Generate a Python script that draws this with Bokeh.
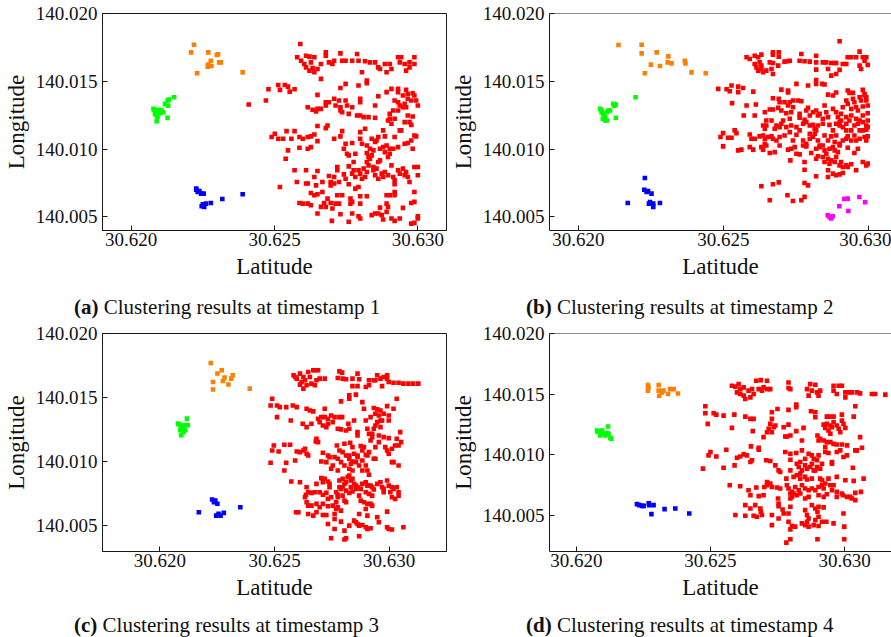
from bokeh.plotting import figure
from bokeh.layouts import column, row
from bokeh.models import Range1d, FixedTicker, PrintfTickFormatter, Span, Div
from bokeh.embed import file_html
from bokeh.resources import INLINE

# Point values are stored as offsets in units of 1e-5 degree
LAT_BASE = 30.62
LON_BASE = 140.00
UNIT = 1e-5

# ---------------- timestamp 1 ----------------
T1_RED = [
(590,1775),(579,1677),(610,1689),(622,1682),(639,1677),(593,1652),(604,1628),(627,1640),(610,1603),(622,1579),(639,1567),(650,1591),(662,1628),(679,1714),(679,1689),(690,1640),(702,1628),(708,1652),(730,1706),(736,1652),(748,1652),(771,1652),(788,1701),(793,1652),(816,1648),(833,1640),(851,1640),(862,1603),(868,1591),(885,1628),(891,1567),(902,1628),(908,1591),(931,1677),(942,1677),(937,1640),(954,1628),(959,1579),(971,1603),(988,1677),(988,1628),(971,1640),(805,1567),(662,1518),(633,1598),
(822,1505),(822,1486),(793,1469),(748,1481),(730,1451),(479,1442),(513,1473),(519,1437),(536,1473),(547,1461),(553,1424),(570,1442),(650,1400),(891,1420),(908,1444),(931,1444),(931,1420),(959,1437),(965,1407),(982,1412),(862,1390),
(470,1358),(616,1309),(633,1290),(645,1277),(650,1297),(662,1297),(679,1346),(679,1322),(690,1346),(708,1371),(713,1322),(725,1358),(730,1309),(730,1285),(736,1272),(748,1358),(753,1322),(771,1309),(799,1371),(799,1346),(851,1322),(919,1358),(931,1346),(937,1322),(948,1395),(948,1309),(954,1334),(965,1371),(977,1358),(988,1395),(994,1358),(1000,1322),(931,1285),(902,1260),(914,1285),(919,1224),(959,1309),
(759,1260),(788,1248),(799,1248),(811,1236),(828,1236),(851,1231),(896,1211),(908,1187),(902,1224),(954,1199),(971,1199),(977,1179),(982,1241),(965,1248),(685,1174),(679,1155),(650,1170),(937,1138),(410,1329),
(490,1089),(501,1113),(513,1076),(530,1076),(542,1133),(559,1076),(570,1133),(587,1089),(599,1076),(616,1089),(627,1094),(639,1108),(650,1059),(708,1076),(730,1094),(736,1133),(748,1040),(771,1045),(799,1125),(799,1076),(805,1040),(816,1150),(822,1027),(839,1076),(851,1052),(856,1064),(862,1089),(879,1138),(885,1094),(891,1027),(879,1015),(868,1003),(919,1089),(942,1138),(954,1040),(965,1045),(977,1064),(988,1101),(994,1094),(982,1003),(931,1015),(914,1003),(902,1003),(833,1003),(845,991),
(547,991),(539,929),(587,1010),(616,1003),(627,1015),(742,1003),(753,966),(759,954),(782,966),(822,971),(828,942),(833,929),(822,905),(839,954),(862,905),(868,917),(896,942),(902,966),(885,978),(776,905),
(570,844),(610,844),(650,839),(639,795),(645,733),(667,758),(690,802),(696,758),(708,795),(708,746),(719,868),(719,844),(725,758),(742,814),(748,782),(759,873),(759,741),(771,819),(776,844),(782,795),(793,844),(799,819),(805,782),(811,856),(816,795),(822,831),(828,880),(845,868),(845,844),(851,807),(856,856),(862,782),(874,819),(879,795),(885,831),(896,807),(908,880),(914,795),(919,770),(919,741),(931,844),(937,819),(948,856),(954,807),(959,831),(965,795),(971,758),(988,868),(1000,807),(1000,868),(519,721),(578,758),(610,746),(616,746),(696,733),(793,721),(782,709),
(627,677),(639,660),(650,667),(667,684),(685,635),(696,603),(719,660),(736,660),(765,635),(771,611),(799,652),(822,652),(891,660),(902,660),(919,684),(919,660),(988,684),(587,603),(599,598),(616,598),(627,586),(662,574),(673,603),(679,574),(702,562),(713,598),(725,598),(765,598),(799,598),(891,598),(896,574),(948,567),(977,603),(988,611),(650,525),(730,520),(771,525),(793,505),(799,488),(839,513),(851,525),(862,525),(868,569),(874,513),(879,481),(891,537),(908,488),(919,471),(937,488),(1000,505),(1000,488),(977,451),(988,456),(700,471),(759,464),
]
T1_ORANGE = [(219,1770),(209,1713),(269,1713),(299,1694),(278,1652),(269,1623),(280,1613),(307,1640),(313,1640),(230,1559),(389,1566),(267,1608),(303,1700)]
T1_GREEN = [(78,1297),(89,1285),(83,1260),(95,1272),(106,1285),(89,1248),(101,1265),(112,1272),(118,1334),(127,1358),(129,1321),(132,1365),(150,1382),(89,1206),(127,1231),(97,1290),(80,1290),(92,1240)]
T1_BLUE = [(227,701),(232,684),(244,672),(253,672),(250,593),(255,574),(261,598),(246,579),(278,603),(318,632),(389,667),(238,691),(227,710),(252,585)]

# ---------------- timestamp 2 ----------------
T2_RED = [
(901,1795),(580,1677),(591,1665),(608,1689),(620,1677),(631,1697),(608,1628),(614,1603),(625,1640),(631,1591),(620,1579),(637,1567),(631,1616),(648,1579),(660,1640),(666,1591),(671,1635),(671,1554),(689,1616),(671,1714),(671,1697),(691,1714),(691,1682),(711,1645),(723,1648),(729,1652),(769,1701),(763,1652),(780,1648),(798,1645),(820,1689),(820,1640),(843,1640),(855,1640),(872,1635),(884,1635),(889,1635),(912,1628),(924,1628),(929,1677),(941,1677),(958,1677),(970,1719),(981,1677),(993,1677),(987,1652),(998,1621),(970,1616),(975,1591),(820,1586),(861,1591),(872,1542),(889,1554),(901,1584),
(820,1510),(820,1481),(841,1481),(849,1476),(752,1481),(792,1469),(528,1469),(551,1461),(568,1451),(482,1444),(511,1442),(522,1427),(551,1420),(603,1424),(700,1439),(723,1432),(723,1417),(861,1402),(878,1395),(889,1417),(929,1432),(935,1415),(947,1415),(981,1437),(987,1407),(993,1383),
(530,1339),(580,1322),(612,1329),(671,1375),(691,1371),(694,1346),(671,1292),(660,1292),(643,1272),(689,1304),(700,1285),(711,1346),(729,1346),(740,1358),(757,1358),(769,1353),(723,1322),(740,1309),(734,1272),(717,1265),(729,1224),(706,1211),(763,1260),(763,1231),(786,1285),(792,1304),(798,1248),(780,1216),(809,1272),(820,1285),(826,1248),(832,1260),(849,1322),(855,1272),(843,1224),(861,1236),(878,1297),(889,1272),(895,1236),(906,1260),(912,1309),(924,1358),(929,1334),(941,1297),(947,1371),(952,1346),(958,1309),(964,1285),(970,1383),(975,1358),(981,1314),(987,1395),(993,1358),(998,1322),(998,1265),(981,1248),(970,1211),(958,1224),(941,1248),(924,1236),(906,1211),(901,1199),(570,1248),(608,1248),(666,1211),(648,1211),
(648,1174),(683,1174),(694,1162),(700,1187),(677,1150),(717,1162),(734,1174),(752,1162),(775,1187),(786,1199),(798,1174),(809,1179),(815,1150),(826,1174),(843,1187),(866,1179),(889,1187),(901,1174),(912,1162),(924,1187),(935,1211),(952,1174),(964,1187),(981,1199),(993,1174),(998,1211),(924,1138),(941,1138),(981,1138),(993,1143),(998,1162),(643,1150),(637,1174),
(499,1118),(490,1089),(516,1084),(528,1084),(539,1138),(545,1118),(591,1108),(597,1076),(608,1076),(625,1094),(637,1101),(643,1076),(654,1089),(666,1094),(671,1076),(643,1040),(648,1027),(683,1064),(694,1089),(694,1027),(711,1101),(729,1125),(740,1064),(752,1106),(763,1138),(775,1064),(786,1040),(798,1113),(798,1076),(809,1089),(815,1113),(820,1138),(826,1064),(832,1027),(849,1101),(861,1064),(872,1094),(878,1138),(889,1101),(884,1052),(901,1040),(912,1064),(924,1076),(929,1094),(941,1064),(952,1101),(958,1064),(970,1076),(987,1089),(993,1064),(998,1094),(970,1138),
(499,1020),(551,991),(562,996),(591,1015),(603,996),(631,1015),(637,996),(660,971),(677,978),(723,996),(734,1003),(746,1015),(752,966),(763,961),(775,1027),(786,1020),(803,971),(820,1003),(832,1015),(843,1027),(849,991),(866,1003),(878,1015),(884,991),(895,978),(901,1027),(929,1010),(952,971),(964,1003),(855,966),
(731,917),(780,905),(780,848),(820,929),(826,947),(843,942),(849,905),(861,929),(866,893),(872,917),(884,905),(889,942),(901,880),(906,905),(912,868),(924,880),(929,868),(941,888),(958,844),(981,905),(993,880),(998,893),(820,800),(861,844),(861,795),(878,819),(889,807),(901,814),(912,824),
(631,726),(671,741),(691,755),(780,750),(792,733),(660,623),(721,660),(740,618),(769,623),(780,648),
]
T2_ORANGE = [(138,1768),(218,1770),(218,1706),(270,1713),(310,1684),(308,1640),(321,1632),(250,1623),(281,1613),(229,1559),(367,1652),(369,1632),(390,1566),(439,1559)]
T2_GREEN = [(75,1297),(80,1285),(86,1260),(92,1235),(98,1272),(103,1285),(109,1285),(92,1211),(98,1211),(120,1334),(129,1329),(129,1231),(84,1223),(197,1382),(124,1320),(80,1270)]
T2_BLUE = [(229,787),(227,701),(235,684),(252,672),(247,610),(258,598),(258,574),(281,603),(170,603),(243,598),(240,690)]
T2_MAGENTA = [(860,512),(872,488),(877,505),(900,579),(917,632),(929,635),(931,544),(969,647),(989,608),(866,500)]

# ---------------- timestamp 3 ----------------
T3_RED = [
(583,1674),(597,1648),(611,1687),(626,1661),(618,1622),(633,1635),(647,1700),(654,1661),(669,1713),(676,1713),(690,1713),(640,1596),(626,1570),(661,1609),(676,1596),(683,1635),(697,1648),(719,1648),(611,1601),(590,1661),(783,1705),(795,1695),(776,1653),(797,1648),(812,1643),(840,1648),(862,1687),(869,1643),(840,1590),(862,1590),(898,1583),(912,1635),(933,1635),(948,1674),(962,1648),(976,1661),(991,1674),(969,1590),(998,1622),(1019,1616),(1041,1616),(1062,1609),(1084,1609),(1105,1609),(1127,1609),(912,1596),(991,1648),(940,1635),
(826,1518),(826,1491),(855,1523),(790,1471),(883,1465),(1033,1491),(490,1491),(483,1439),(511,1439),(523,1426),(551,1426),(580,1439),(597,1426),(640,1413),(654,1400),(669,1393),(719,1413),(890,1413),(933,1419),(948,1408),(962,1400),(991,1434),(1019,1413),(940,1374),(919,1348),(955,1361),(962,1322),(976,1374),(998,1361),(998,1322),(511,1348),(571,1322),
(690,1335),(704,1348),(719,1348),(733,1335),(747,1361),(762,1348),(783,1348),(795,1348),(754,1309),(733,1296),(711,1283),(726,1270),(697,1309),(661,1296),(640,1270),(623,1296),(822,1296),(847,1322),(776,1257),(790,1252),(812,1244),(826,1257),(862,1231),(862,1205),(905,1257),(912,1218),(926,1218),(933,1257),(940,1283),(948,1309),(962,1270),(955,1205),(976,1192),(998,1184),(969,1322),(898,1322),
(683,1179),(690,1153),(680,1158),(772,1127),(805,1140),(830,1148),(840,1114),(847,1062),(876,1122),(883,1088),(890,1114),(912,1075),(919,1166),(926,1192),(940,1114),(955,1153),(983,1114),(991,1088),(998,1062),(1012,1101),(1026,1127),(1041,1127),(1052,1153),(1048,1231),(1033,1179),(497,1127),(490,1088),(518,1080),(543,1132),(568,1132),(597,1080),(611,1075),(626,1088),(633,1101),(640,1062),(647,1049),(711,1070),(733,1049),(740,1036),(783,1088),(797,1075),(812,1049),(826,1049),(862,1049),(898,1054),(762,1036),
(483,992),(551,992),(590,1010),(704,1002),(726,997),(754,971),(776,1023),(790,997),(805,971),(826,1023),(833,984),(840,1002),(855,997),(862,1036),(869,971),(883,1010),(898,971),(905,1049),(933,1023),(940,1023),(1012,997),(1019,997),(747,945),(776,932),(826,945),(840,932),(883,932),(905,932),(912,898),(543,932),(1041,971),
(573,846),(611,840),(683,827),(711,840),(704,872),(719,867),(733,846),(740,827),(783,854),(797,867),(805,827),(812,840),(819,880),(826,893),(833,854),(840,867),(847,827),(855,814),(833,801),(797,801),(783,801),(769,762),(776,742),(790,788),(812,775),(826,757),(840,768),(855,788),(862,801),(876,788),(883,827),(898,840),(905,814),(919,814),(926,801),(933,783),(948,827),(962,840),(969,801),(976,788),(991,854),(998,814),(1012,801),(1019,788),(1033,801),(1041,762),(740,801),(640,801),(697,762),(676,762),(661,757),(647,762),(637,742),(898,762),(912,749),(926,736),(976,762),(1005,762),(1012,723),(1026,710),(1041,736),(711,742),(726,757),
(633,723),(640,684),(647,658),(661,658),(683,671),(711,671),(733,710),(747,723),(776,723),(797,736),(805,697),(769,684),(754,658),(776,645),(812,684),(869,736),(876,697),(890,684),(905,671),(919,671),(926,658),(697,645),(733,653),(769,632),(790,619),(898,632),(594,606),(604,606),(647,593),(669,580),(683,606),(711,585),(726,585),(762,593),(869,593),(905,580),(991,611),
(762,554),(790,533),(733,515),(826,502),(847,541),(855,528),(862,515),(869,502),(883,507),(898,489),(905,476),(919,481),(948,567),(955,528),(991,489),(998,476),(1012,471),(1062,489),(762,476),(805,463),(747,403),(805,393),(812,403),(869,419),
]
T3_ORANGE = [(222,1770),(251,1688),(270,1713),(232,1622),(275,1630),(282,1656),(318,1674),(311,1648),(299,1602),(232,1563),(392,1570)]
T3_GREEN = [(79,1297),(89,1284),(96,1270),(103,1276),(110,1284),(122,1284),(118,1336),(89,1245),(103,1231),(110,1245),(93,1206),(99,1258),(85,1290)]
T3_BLUE = [(170,606),(228,705),(236,685),(251,672),(246,580),(256,594),(265,580),(279,601),(351,645),(242,698)]

# ---------------- timestamp 4 ----------------
T4_RED = [
(580,1569),(593,1561),(605,1582),(611,1541),(624,1555),(599,1514),(611,1500),(624,1487),(630,1459),(642,1528),(649,1473),(655,1541),(661,1500),(671,1610),(688,1615),(711,1610),(680,1541),(692,1528),(698,1555),(711,1541),(723,1541),(791,1596),(791,1550),(798,1541),(872,1582),(891,1577),(860,1541),(866,1487),(878,1528),(897,1514),(903,1487),(909,1528),(959,1569),(978,1569),(990,1569),(959,1528),(971,1500),(1003,1514),(1015,1514),(1027,1514),(1046,1514),(1058,1506),(1102,1500),(1114,1500),(1152,1495),(1003,1473),
(481,1399),(481,1341),(512,1341),(522,1330),(549,1322),(589,1330),(630,1314),(649,1295),(661,1295),(729,1350),(750,1377),(791,1369),(820,1413),(820,1391),(875,1358),(891,1350),(891,1309),(934,1314),(944,1314),(959,1314),(990,1330),(1034,1314),(1040,1399),(990,1281),(729,1295),(723,1254),(736,1226),(742,1240),(717,1213),(729,1185),(711,1185),(773,1226),(791,1248),(798,1158),(820,1194),(847,1221),(922,1248),(928,1221),(934,1254),(947,1240),(953,1226),(959,1267),(971,1240),(978,1213),(984,1185),(996,1254),(1003,1221),(940,1199),(947,1172),(490,1254),(580,1221),(658,1194),(785,1150),
(698,1144),(779,1150),(841,1117),(899,1158),(903,1117),(909,1131),(922,1117),(928,1062),(934,1103),(947,1103),(959,1089),(971,1084),(990,1084),(1009,1076),(1058,1144),(1065,1057),(651,1068),(680,1057),(680,1040),(559,1040),(500,1021),(493,994),(522,985),(611,985),(624,1002),(599,974),(636,994),(655,953),(649,939),(708,953),(723,947),(742,911),(779,1021),(798,1007),(798,958),(820,1013),(835,939),(841,1035),(853,966),(866,1007),(878,994),(885,966),(897,953),(903,994),(928,1021),(940,1013),(971,1021),(984,1035),(996,980),(1009,994),(1040,1035),(1046,1035),(953,939),
(472,884),(549,892),(590,911),(754,870),(760,857),(798,870),(822,925),(829,898),(835,843),(841,870),(853,911),(860,884),(872,898),(878,925),(885,870),(891,870),(897,898),(909,884),(916,925),(953,925),(1031,892),(783,802),(810,816),(822,829),(835,802),(853,816),(860,794),(878,802),(909,802),(916,788),(940,802),(971,816),(1003,788),(1034,783),(1071,802),(711,774),(723,761),
(572,747),(611,739),(642,706),(671,728),(701,733),(711,747),(729,733),(748,728),(760,720),(785,747),(791,720),(804,692),(816,733),(829,706),(841,747),(853,720),(866,706),(878,720),(891,706),(903,733),(916,747),(922,720),(928,761),(947,747),(953,706),(959,747),(971,692),(990,679),(1009,651),(1021,651),(1027,637),(1040,624),(1040,684),(1061,692),(649,665),(680,657),(698,665),(752,637),(754,596),(798,679),(798,637),(804,651),(810,679),(822,665),(835,679),(853,637),(866,651),(903,665),(922,651),(934,673),(971,651),(994,665),
(630,583),(649,555),(667,583),(686,555),(688,528),(692,501),(673,487),(661,495),(630,495),(593,501),(729,501),(754,575),(754,473),(769,547),(773,514),(791,514),(798,569),(853,542),(860,501),(866,473),(878,583),(891,555),(903,569),(922,564),(899,528),(903,487),(916,446),(932,446),(959,432),(996,514),(999,405),(729,418),(791,446),(804,410),(798,383),(816,405),(841,432),(853,418),(860,446),(866,405),(885,418),(891,459),(903,410),
(783,273),(798,301),(899,301),(999,301),
]
T4_ORANGE = [(267,1574),(267,1528),(307,1574),(307,1528),(309,1486),(325,1528),(342,1500),(350,1541),(363,1541),(379,1505),(269,1555),(319,1514)]
T4_GREEN = [(77,1199),(86,1185),(89,1158),(96,1199),(102,1172),(108,1158),(118,1232),(120,1172),(127,1139),(130,1131),(114,1177),(80,1190)]
T4_BLUE = [(226,591),(235,583),(245,577),(251,577),(270,597),(272,583),(288,583),(280,509),(329,550),(369,555),(421,514)]

X_TICKS = [30.620, 30.625, 30.630]
Y_TICKS = [140.005, 140.010, 140.015, 140.020]
TAGS = ["(a)", "(b)", "(c)", "(d)"]
CAPTIONS = ["Clustering results at timestamp 1", "Clustering results at timestamp 2",
            "Clustering results at timestamp 3", "Clustering results at timestamp 4"]

RED, ORANGE, GREEN, BLUE, MAGENTA = "#ff0000", "#ff8000", "#00ff00", "#0000ff", "#ff00ff"
FONT = "Liberation Serif"
AXIS_COLOR = "#1a1a1a"


def make_panel(clusters, xr, yr, width, height, bl, br, bt, frame_h, full_box):
    bb = height - bt - frame_h
    p = figure(width=width, height=height, x_range=Range1d(*xr), y_range=Range1d(*yr),
               output_backend="svg", toolbar_location=None,
               min_border_left=bl, min_border_right=br, min_border_top=bt, min_border_bottom=bb)
    p.xgrid.visible = False
    p.ygrid.visible = False
    p.background_fill_color = "white"
    p.border_fill_color = "white"
    if full_box:
        p.outline_line_color = AXIS_COLOR
        p.outline_line_width = 1
    else:
        p.outline_line_color = None
        p.add_layout(Span(location=yr[1], dimension="width", line_color=AXIS_COLOR, line_width=1))

    for pts, color in clusters:
        lats = [LAT_BASE + a * UNIT for a, b in pts]
        lons = [LON_BASE + b * UNIT for a, b in pts]
        p.scatter(lats, lons, marker="square", size=4.6, fill_color=color, line_color=None)

    p.xaxis.ticker = FixedTicker(ticks=X_TICKS)
    p.yaxis.ticker = FixedTicker(ticks=Y_TICKS)
    p.xaxis.formatter = PrintfTickFormatter(format="%.3f")
    p.yaxis.formatter = PrintfTickFormatter(format="%.3f")
    p.xaxis.axis_label = "Latitude"
    p.yaxis.axis_label = "Longitude"
    for ax in (p.xaxis[0], p.yaxis[0]):
        ax.axis_line_color = AXIS_COLOR
        ax.major_tick_line_color = AXIS_COLOR
        ax.minor_tick_line_color = None
        ax.major_tick_in = 5
        ax.major_tick_out = 0
        ax.major_label_text_font = FONT
        ax.major_label_text_font_size = "19px"
        ax.major_label_text_color = "#111111"
        ax.axis_label_text_font = FONT
        ax.axis_label_text_font_size = "23px"
        ax.axis_label_text_font_style = "normal"
        ax.axis_label_text_color = "#111111"
    p.xaxis.major_label_standoff = 2
    p.xaxis.axis_label_standoff = 5
    p.yaxis.major_label_standoff = 5
    p.yaxis.axis_label_standoff = 4
    return p


def caption_div(tag, text, width, height, left, top, line_h):
    html = ('<div style="padding-left:%dpx; padding-top:%dpx; font-family:\'Liberation Serif\'; '
            'font-size:21px; line-height:%dpx; white-space:nowrap; color:#111111;">'
            '<b>%s</b> %s</div>') % (left, top, line_h, tag, text)
    return Div(text=html, width=width, height=height, margin=0)


pa = make_panel([(T1_RED, RED), (T1_ORANGE, ORANGE), (T1_GREEN, GREEN), (T1_BLUE, BLUE)],
                (30.619, 30.631), (140.004, 140.020), 447, 286, 97, 1, 13, 217, True)
pb = make_panel([(T2_RED, RED), (T2_ORANGE, ORANGE), (T2_GREEN, GREEN), (T2_BLUE, BLUE), (T2_MAGENTA, MAGENTA)],
                (30.619, 30.6308), (140.004, 140.020), 444, 286, 102, 0, 13, 217, False)
pc = make_panel([(T3_RED, RED), (T3_ORANGE, ORANGE), (T3_GREEN, GREEN), (T3_BLUE, BLUE)],
                (30.6175, 30.6325), (140.003, 140.020), 447, 287, 97, 1, 13, 218, True)
pd = make_panel([(T4_RED, RED), (T4_ORANGE, ORANGE), (T4_GREEN, GREEN), (T4_BLUE, BLUE)],
                (30.619, 30.63175), (140.002, 140.020), 444, 287, 102, 0, 13, 218, False)

da = caption_div(TAGS[0], CAPTIONS[0], 447, 34, 74, 11, 21)
db = caption_div(TAGS[1], CAPTIONS[1], 444, 34, 79, 11, 21)
dc = caption_div(TAGS[2], CAPTIONS[2], 447, 30, 74, 10, 16)
dd = caption_div(TAGS[3], CAPTIONS[3], 444, 30, 79, 10, 16)

layout = column(row(pa, pb), row(da, db), row(pc, pd), row(dc, dd))
open("out.html", "w").write(file_html(layout, INLINE))
